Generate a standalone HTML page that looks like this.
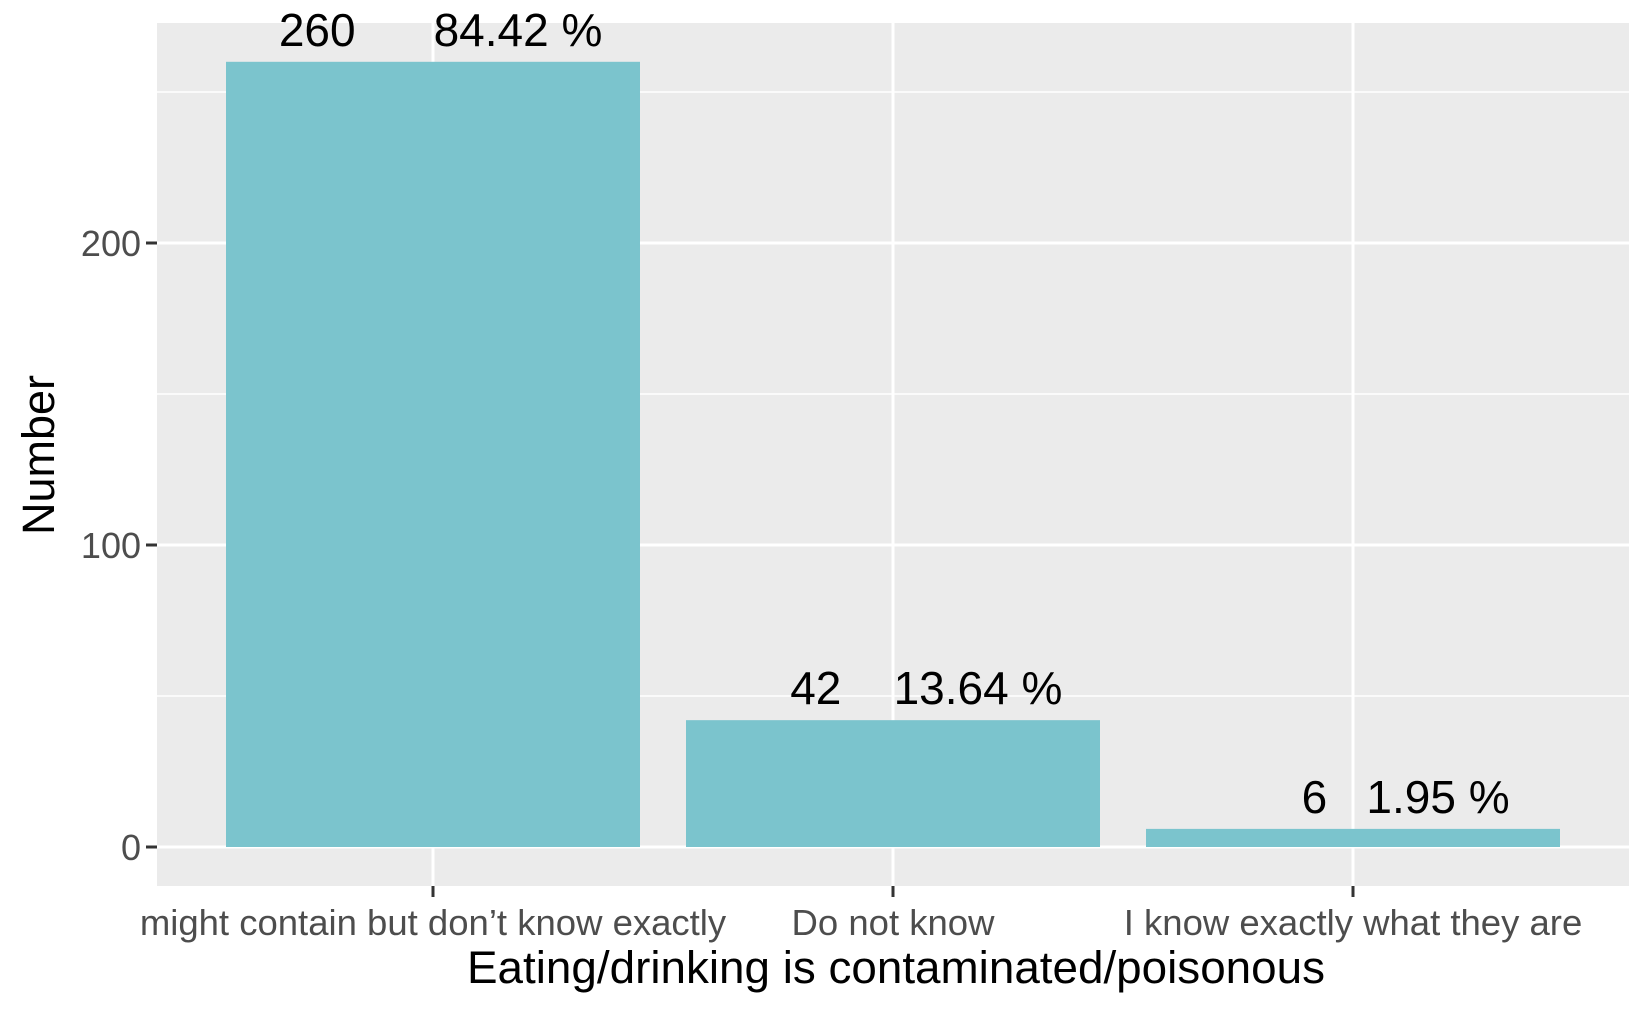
<!DOCTYPE html>
<html><head><meta charset="utf-8"><style>
html,body{margin:0;padding:0;background:#fff;}
svg{display:block;font-family:"Liberation Sans",Arial,sans-serif;}
</style></head><body>
<svg id="chart" width="1652" height="1015" viewBox="0 0 1652 1015">
<rect x="157" y="23" width="1472" height="863" fill="#ebebeb"/>
<g id="grid"></g><g id="bars"></g><g id="axes"></g>
<text x="42" y="455" font-size="45" fill="#000" text-anchor="middle" transform="rotate(-90 42 455)" dominant-baseline="middle">Number</text>
<text x="896" y="983" font-size="45.8" fill="#000" text-anchor="middle">Eating/drinking is contaminated/poisonous</text>
</svg>
<script>
const categories=["might contain but don\u2019t know exactly","Do not know","I know exactly what they are"];
const counts=[260,42,6];
const percents=["84.42 %","13.64 %","1.95 %"];
const yTicks=[0,100,200];
const yMinor=[50,150,250];
const NS="http://www.w3.org/2000/svg";
const x0=157,x1=1629,y0=23,y1=886;
function yS(v){return 847-v*3.02;}
const step=(x1-x0)/(categories.length+0.2);
function xS(i){return x0+step*0.6+i*step;}
function mk(tag,attrs,parent){const e=document.createElementNS(NS,tag);for(const k in attrs)e.setAttribute(k,attrs[k]);parent.appendChild(e);return e;}
const grid=document.getElementById('grid'),bars=document.getElementById('bars'),axes=document.getElementById('axes');
yMinor.forEach(v=>{const l=mk('line',{x1:x0,x2:x1,y1:yS(v),y2:yS(v),stroke:'#fff','stroke-width':1.5},grid);

});
yTicks.forEach(v=>{const l=mk('line',{x1:x0,x2:x1,y1:yS(v),y2:yS(v),stroke:'#fff','stroke-width':3},grid);


const t=mk('line',{x1:x0-11,x2:x0,y1:yS(v),y2:yS(v),stroke:'#333','stroke-width':3},axes);


const tx=mk('text',{x:x0-16,y:yS(v)+13,'font-size':36,fill:'#4d4d4d','text-anchor':'end'},axes);tx.textContent=v;

});
categories.forEach((c,i)=>{const cx=xS(i);
const g=mk('line',{x1:cx,x2:cx,y1:y0,y2:y1,stroke:'#fff','stroke-width':3},grid);


const bw=step*0.9;
const b=mk('rect',{x:cx-bw/2,y:yS(counts[i]),width:bw,height:yS(0)-yS(counts[i]),fill:'#7bc4cd'},bars);


const ly=yS(counts[i])-16;
const cs=String(counts[i]);
const lc=mk('text',{x:cx-38.6*cs.length,y:ly,'font-size':46,fill:'#000','text-anchor':'middle'},bars);
lc.textContent=cs;


const lp=mk('text',{x:cx+85,y:ly,'font-size':46,fill:'#000','text-anchor':'middle'},bars);
lp.textContent=percents[i];


const t=mk('line',{x1:cx,x2:cx,y1:y1,y2:y1+11,stroke:'#333','stroke-width':3},axes);


const tx=mk('text',{x:cx,y:935,'font-size':36.5,fill:'#4d4d4d','text-anchor':'middle'},axes);tx.textContent=c;

});
</script>
</body></html>
